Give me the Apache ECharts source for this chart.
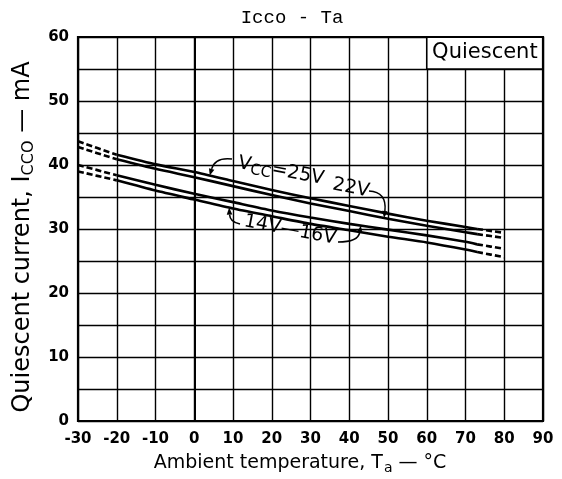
<!DOCTYPE html>
<html><head><meta charset="utf-8">
<script src="https://cdn.jsdelivr.net/npm/echarts@6/dist/echarts.min.js"></script>
<style>html,body{margin:0;padding:0;background:#fff}#c{width:562px;height:479px}</style>
</head><body><div id="c"></div>
<script>
// Ambient temperature (°C) sample points
const temps = [-30, -20, -10, 0, 10, 20, 30, 40, 50, 60, 70, 73, 80];
// Quiescent current Icco (mA) per supply voltage
const vcc25 = [43.7, 41.6, 40.1, 38.9, 37.5, 36.1, 34.8, 33.6, 32.4, 31.3, 30.3, 30.0, 29.4];
const vcc22 = [42.8, 40.9, 39.4, 38.1, 36.7, 35.3, 34.0, 32.8, 31.6, 30.5, 29.5, 29.2, 28.6];
const vcc16 = [40.0, 38.4, 36.9, 35.5, 34.2, 32.9, 31.8, 30.8, 29.9, 29.0, 28.0, 27.6, 26.9];
const vcc14 = [39.0, 37.6, 36.0, 34.6, 33.2, 32.0, 30.8, 29.8, 28.8, 27.9, 26.8, 26.4, 25.6];
const solidFrom = -20, solidTo = 73;   // measured range (solid); outside = dashed extrapolation
const xTickValues = [-30, -20, -10, 0, 10, 20, 30, 40, 50, 60, 70, 80, 90];
const yTickLabels = [0, 10, 20, 30, 40, 50, 60];
const boxTemps = [60, 90], boxCurrents = [55, 60];

const chart = echarts.init(document.getElementById('c'), null, {renderer: 'canvas'});
const FONT = 'DejaVu Sans';

function solid(v) { return temps.map((t, i) => (t >= solidFrom && t <= solidTo) ? [t, v[i]] : [t, '-']); }
function dashed(v) { return temps.map((t, i) => (t <= solidFrom || t >= solidTo) ? [t, v[i]] : [t, '-']); }
function mk(v, name, dash) {
  return {
    type: 'line', name, data: dash ? dashed(v) : solid(v), symbol: 'none', smooth: 0.2,
    connectNulls: false, silent: true, z: 5,
    lineStyle: {color: '#000', width: 2.6, type: dash ? [6, 3] : 'solid'}
  };
}
const series = [];
[[vcc25, '25V'], [vcc22, '22V'], [vcc16, '16V'], [vcc14, '14V']].forEach(([v, n]) => {
  series.push(mk(v, n, false));
  series.push(mk(v, n + ' ext', true));
});
series[0].markArea = {
  silent: true,
  itemStyle: {color: '#fff', borderColor: '#000', borderWidth: 1.6, opacity: 1},
  label: {show: true, position: 'inside', color: '#000', fontFamily: FONT, fontSize: 21},
  data: [[{name: 'Quiescent', coord: [boxTemps[0], boxCurrents[1]]}, {coord: [boxTemps[1], boxCurrents[0]]}]]
};

chart.setOption({
  animation: false,
  backgroundColor: '#fff',
  grid: {left: 78, right: 19, top: 37, bottom: 58},
  xAxis: {
    type: 'value', min: -30, max: 90, interval: 10,
    axisLine: {show: true, lineStyle: {color: '#000', width: 2}},
    axisTick: {show: false},
    axisLabel: {color: '#000', fontFamily: FONT, fontWeight: 'bold', fontSize: 15, margin: 11,
      formatter: v => xTickValues.includes(v) ? String(v) : ''},
    splitLine: {show: true, lineStyle: {color: '#000', width: 1.4}}
  },
  yAxis: {
    type: 'value', min: 0, max: 60, interval: 5,
    axisLine: {show: true, lineStyle: {color: '#000', width: 2}},
    axisTick: {show: false},
    axisLabel: {color: '#000', fontFamily: FONT, fontWeight: 'bold', fontSize: 15, margin: 9,
      formatter: v => yTickLabels.includes(v) ? String(v) : ''},
    splitLine: {show: true, lineStyle: {color: '#000', width: 1.4}}
  },
  series
});

function valAt(v, t) {
  for (let i = 0; i < temps.length - 1; i++) {
    if (t >= temps[i] && t <= temps[i + 1]) {
      const f = (t - temps[i]) / (temps[i + 1] - temps[i]);
      return v[i] + f * (v[i + 1] - v[i]);
    }
  }
  return v[v.length - 1];
}
function px(t, v) { return chart.convertToPixel({gridIndex: 0}, [t, v]); }
function arrow(start, ctrl, tip) {
  const dx = tip[0] - ctrl[0], dy = tip[1] - ctrl[1];
  const L = Math.hypot(dx, dy) || 1, ux = dx / L, uy = dy / L;
  const s = 7, w = 2.8;
  const bx = tip[0] - ux * s, by = tip[1] - uy * s;
  return [
    {type: 'bezierCurve', z: 20, shape: {x1: start[0], y1: start[1], cpx1: ctrl[0], cpy1: ctrl[1], x2: bx, y2: by},
      style: {stroke: '#000', lineWidth: 1.5, fill: null}},
    {type: 'polygon', z: 20, shape: {points: [tip, [bx - uy * w, by + ux * w], [bx + uy * w, by - ux * w]]},
      style: {fill: '#000'}}
  ];
}
const tl = px(-30, 60), br = px(90, 0);
const rot = -0.19;
function label(text, x, y, rich) {
  return {type: 'text', z: 20, x, y, rotation: rot,
    style: {text, fill: '#000', font: `19px "${FONT}"`, align: 'center', verticalAlign: 'middle', rich}};
}

const t25 = px(4, valAt(vcc25, 4));
const t22 = px(49, valAt(vcc22, 49));
const t14 = px(9, valAt(vcc14, 9));
const t16 = px(43, valAt(vcc16, 43));

const g = [
  {type: 'rect', z: 15, shape: {x: tl[0], y: tl[1], width: br[0] - tl[0], height: br[1] - tl[1]},
    style: {fill: null, stroke: '#000', lineWidth: 2.2}},
  {type: 'text', z: 20, x: 292, y: 18, style: {text: 'Icco - Ta', fill: '#000', font: '19px "Liberation Mono"', align: 'center', verticalAlign: 'middle'}},
  {type: 'text', z: 20, x: 300, y: 463, style: {text: '{n|Ambient temperature, T}{s|a}{n| — °C}', align: 'center', verticalAlign: 'middle',
    rich: {n: {fontFamily: FONT, fontSize: 19, fill: '#000'}, s: {fontFamily: FONT, fontSize: 14, fill: '#000', padding: [10, 0, 0, 1]}}}},
  {type: 'text', z: 20, x: 23, y: 237, rotation: Math.PI / 2, style: {text: '{n|Quiescent current, I}{s|CCO}{n| — mA}', align: 'center', verticalAlign: 'middle',
    rich: {n: {fontFamily: FONT, fontSize: 24, fill: '#000'}, s: {fontFamily: FONT, fontSize: 16, fill: '#000', padding: [11, 0, 0, 0]}}}},
  label('{v|V}{s|CC}{v|=25V}', 281, 171, {v: {fontFamily: FONT, fontSize: 19}, s: {fontFamily: FONT, fontSize: 15, padding: [9, 0, 0, 0]}}),
  label('22V', 351, 188),
  label('14V—16V', 290, 230)
];
g.push(...arrow([232, 159], [215, 157], t25));
g.push(...arrow([369, 191], [387, 192], t22));
g.push(...arrow([240, 224], [230, 222], t14));
g.push(...arrow([338, 242], [358, 242], t16));
chart.setOption({graphic: g});
</script></body></html>
